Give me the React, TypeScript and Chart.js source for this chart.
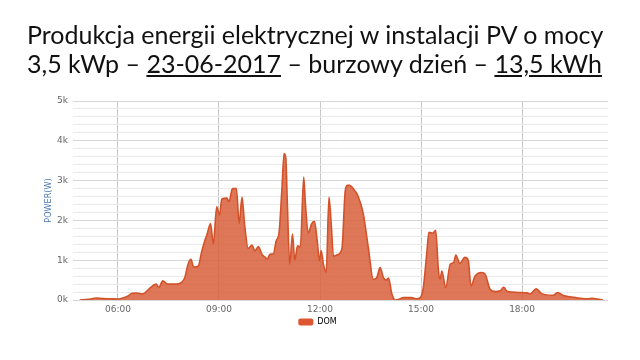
import React, { useEffect, useRef } from "react";
import { Chart, registerables } from "chart.js";

Chart.register(...registerables);

const TITLE_LINE_1 = "Produkcja energii elektrycznej w instalacji PV o mocy";
const TITLE_LINE_2_PARTS = ["3,5 kWp – ", "23-06-2017", " – burzowy dzień – ", "13,5 kWh"];
const TITLE_LINE_2_UNDERLINED = [false, true, false, true];

const SERIES_NAME = "DOM";
const Y_AXIS_TITLE = "POWER(W)";
const X_TICK_LABELS = ["06:00", "09:00", "12:00", "15:00", "18:00"];
const X_MIN = "04:40";
const X_MAX = "20:33";
const Y_MAX = 5000;
const Y_STEP = 200;
const Y_LABEL_STEP = 1000;

const TIMES = [
  "04:52", "05:07", "05:22", "05:33", "05:46", "06:00", "06:09", "06:18", "06:25", "06:34",
  "06:43", "06:48", "06:57", "07:08", "07:13", "07:20", "07:27", "07:36", "07:45", "07:54",
  "07:59", "08:05", "08:10", "08:15", "08:23", "08:29", "08:35", "08:39", "08:45", "08:50",
  "08:56", "09:01", "09:05", "09:14", "09:18", "09:24", "09:31", "09:36", "09:41", "09:46",
  "09:52", "09:59", "10:04", "10:10", "10:17", "10:22", "10:26", "10:31", "10:37", "10:42",
  "10:47", "10:52", "10:56", "10:59", "11:02", "11:06", "11:11", "11:15", "11:20", "11:25",
  "11:31", "11:34", "11:39", "11:45", "11:50", "11:55", "11:59", "12:02", "12:06", "12:11",
  "12:16", "12:20", "12:24", "12:30", "12:39", "12:45", "12:49", "12:53", "12:59", "13:08",
  "13:17", "13:26", "13:35", "13:41", "13:47", "13:53", "13:58", "14:02", "14:08", "14:14",
  "14:23", "14:28", "14:43", "14:52", "14:58", "15:04", "15:10", "15:14", "15:21", "15:26",
  "15:31", "15:34", "15:37", "15:44", "15:52", "15:58", "16:02", "16:09", "16:18", "16:24",
  "16:29", "16:36", "16:48", "16:54", "17:03", "17:12", "17:21", "17:27", "17:33", "17:44",
  "17:56", "18:09", "18:14", "18:25", "18:35", "18:56", "19:03", "19:14", "19:25", "19:43",
  "19:58", "20:04", "20:19", "20:24",
];

const POWER_W = [
  0, 15, 50, 35, 30, 25, 50, 100, 170, 175,
  150, 180, 300, 400, 320, 480, 410, 400, 400, 450,
  560, 900, 1020, 830, 850, 1200, 1500, 1660, 1920, 1410,
  2340, 2130, 2540, 2560, 2470, 2800, 2800, 1920, 2580, 1850,
  1300, 1380, 1230, 1340, 1140, 1080, 1030, 1150, 1160, 1490,
  1680, 2750, 3680, 3580, 2350, 900, 1660, 1000, 1360, 1330,
  3090, 2420, 1680, 1910, 1980, 1490, 985, 1240, 900, 690,
  2580, 1900, 1100, 1130, 1280, 2750, 2880, 2880, 2800, 2600,
  2170, 1320, 520, 560, 815, 560, 500, 550, 150, 0,
  30, 60, 60, 30, 50, 310, 1150, 1700, 1680, 1750,
  730, 520, 730, 310, 900, 940, 1130, 920, 1070, 1000,
  350, 600, 690, 650, 270, 210, 230, 320, 220, 200,
  190, 180, 150, 280, 160, 120, 190, 110, 80, 45,
  30, 45, 10, 0,
];

const toMin = (s: string) => {
  const [h, m] = s.split(":").map(Number);
  return h * 60 + m;
};
const fmtMin = (v: number) => {
  const h = Math.floor(v / 60);
  const m = Math.round(v - h * 60);
  return String(h).padStart(2, "0") + ":" + String(m).padStart(2, "0");
};

const LINE_COLOR = "#d3522a";
const FILL_COLOR = "rgba(215, 95, 58, 0.85)";
const LEGEND_COLOR = "#dd5630";

export default function App() {
  const canvasRef = useRef<HTMLCanvasElement | null>(null);

  useEffect(() => {
    document.body.style.margin = "0";
    const canvas = canvasRef.current;
    if (!canvas) return;
    const tickFont = { family: "'DejaVu Sans', sans-serif", size: 9 };
    const chart = new Chart(canvas, {
      type: "line",
      data: {
        datasets: [
          {
            label: SERIES_NAME,
            data: TIMES.map((t, i) => ({ x: toMin(t), y: POWER_W[i] })),
            borderColor: LINE_COLOR,
            backgroundColor: FILL_COLOR,
            borderWidth: 1.6,
            fill: "origin",
            pointRadius: 0,
            cubicInterpolationMode: "monotone",
          },
        ],
      },
      options: {
        animation: false,
        responsive: false,
        events: [],
        layout: { padding: { left: 27, right: 32, top: 101, bottom: 24 } },
        scales: {
          x: {
            type: "linear",
            min: toMin(X_MIN),
            max: toMin(X_MAX),
            afterBuildTicks: (scale: any) => {
              scale.ticks = X_TICK_LABELS.map((t) => ({ value: toMin(t) }));
            },
            afterFit: (scale: any) => {
              scale.height = 12;
            },
            ticks: {
              autoSkip: false,
              maxRotation: 0,
              padding: 4,
              color: "#666666",
              font: tickFont,
              callback: (v: any) => fmtMin(Number(v)),
            },
            grid: { color: "#c8c8c8", drawTicks: false, lineWidth: 1 },
            border: { display: false },
          },
          y: {
            type: "linear",
            min: 0,
            max: Y_MAX,
            afterBuildTicks: (scale: any) => {
              const t = [];
              for (let v = 0; v <= Y_MAX; v += Y_STEP) t.push({ value: v });
              scale.ticks = t;
            },
            afterFit: (scale: any) => {
              scale.width = 46;
            },
            ticks: {
              autoSkip: false,
              padding: 5,
              color: "#666666",
              font: tickFont,
              callback: (v: any) => (Number(v) % Y_LABEL_STEP === 0 ? Number(v) / 1000 + "k" : ""),
            },
            grid: {
              drawTicks: false,
              color: (ctx: any) => (ctx.tick && ctx.tick.value % Y_LABEL_STEP === 0 ? "#d6d6d6" : "#e9e9e9"),
            },
            border: { display: false },
            title: {
              display: true,
              text: Y_AXIS_TITLE,
              color: "#4a7ab5",
              font: { family: "'DejaVu Sans Condensed', 'DejaVu Sans', sans-serif", size: 9 },
              padding: { top: 16, bottom: 0 },
            },
          },
        },
        plugins: {
          title: { display: false },
          tooltip: { enabled: false },
          legend: {
            position: "bottom",
            labels: {
              boxWidth: 15,
              boxHeight: 7,
              padding: 6,
              color: "#333333",
              font: { family: "'DejaVu Sans', sans-serif", size: 8 },
              generateLabels: (ch: any) =>
                ch.data.datasets.map((ds: any, i: number) => ({
                  text: ds.label,
                  fillStyle: LEGEND_COLOR,
                  strokeStyle: LEGEND_COLOR,
                  lineWidth: 0,
                  hidden: false,
                  datasetIndex: i,
                  borderRadius: 2,
                })),
            },
          },
        },
      },
    } as any);
    return () => chart.destroy();
  }, []);

  return (
    <div style={{ position: "relative", width: 640, height: 360, background: "#ffffff", overflow: "hidden" }}>
      <canvas ref={canvasRef} width={640} height={360} style={{ position: "absolute", left: 0, top: 0, width: 640, height: 360 }} />
      <div
        style={{
          position: "absolute",
          left: 27,
          top: 20,
          fontFamily: "Lato, 'Open Sans', sans-serif",
          fontSize: 25,
          lineHeight: "29px",
          color: "#111111",
          whiteSpace: "nowrap",
        }}
      >
        <div>{TITLE_LINE_1}</div>
        <div>
          {TITLE_LINE_2_PARTS.map((p, i) => (
            <span key={i} style={{ textDecoration: TITLE_LINE_2_UNDERLINED[i] ? "underline" : "none" }}>
              {p}
            </span>
          ))}
        </div>
      </div>
    </div>
  );
}
